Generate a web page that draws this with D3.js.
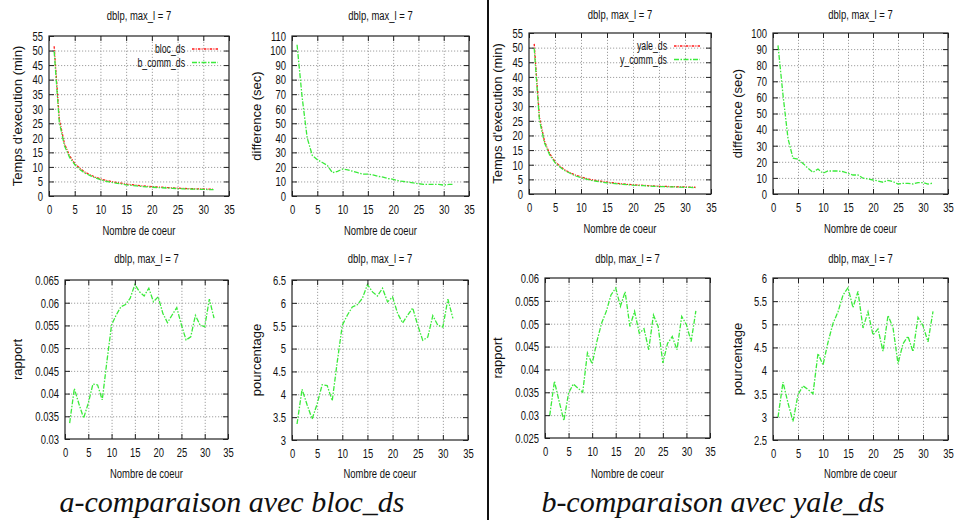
<!DOCTYPE html>
<html lang="fr">
  <head>
    <meta charset="utf-8">
    <title>dblp, max_l = 7</title>
    <style>
      body { margin: 0; background: #fff; }
      svg { display: block; }
    </style>
  </head>
  <body>
    <div id="root"></div>
    <script src="https://d3js.org/d3.v7.min.js" charset="utf-8"></script>
    <script>
      // data
      const cores = [1, 2, 3, 4, 5, 6, 7, 8, 9, 10, 11, 12, 13, 14, 15, 16,
                     17, 18, 19, 20, 21, 22, 23, 24, 25, 26, 27, 28, 29, 30, 31, 32];

      const blocDs = [51.5, 26.5, 18, 13.8, 11.2, 9.5, 8.2, 7.3, 6.5, 5.9, 5.4, 5.0, 4.7, 4.4, 4.1, 3.9,
                      3.7, 3.5, 3.35, 3.2, 3.1, 3.0, 2.9, 2.8, 2.7, 2.6, 2.55, 2.5, 2.45, 2.4, 2.35, 2.3];
      const bCommDs = [49.8, 25.4, 17.3, 13.3, 10.8, 9.1, 7.85, 7.03, 6.22, 5.6, 5.1, 4.72, 4.43, 4.15, 3.85, 3.66,
                       3.47, 3.28, 3.15, 3.01, 2.92, 2.83, 2.74, 2.65, 2.56, 2.47, 2.42, 2.37, 2.32, 2.28, 2.22, 2.17];
      const diffBloc = [104, 68, 40, 28, 25, 23, 21, 16, 17, 18.5, 18, 17, 16, 15, 15, 14.5,
                        13.5, 13, 12, 11.5, 10.5, 10, 9.5, 9, 8.5, 8, 8, 8, 8, 7.5, 8, 8];
      const rapportBloc = [0.0335, 0.0411, 0.0377, 0.0346, 0.0379, 0.0421, 0.0419, 0.0386, 0.0471, 0.0551, 0.0573, 0.0591, 0.0596, 0.061, 0.064, 0.0624,
                           0.0615, 0.0632, 0.0602, 0.0613, 0.0577, 0.0556, 0.0573, 0.0589, 0.0551, 0.0518, 0.0525, 0.0572, 0.0551, 0.0547, 0.0608, 0.0566];
      const pourcBloc = [3.35, 4.11, 3.77, 3.46, 3.79, 4.21, 4.19, 3.86, 4.71, 5.51, 5.73, 5.91, 5.96, 6.1, 6.4, 6.24,
                         6.15, 6.32, 6.02, 6.13, 5.77, 5.56, 5.73, 5.89, 5.51, 5.18, 5.25, 5.72, 5.51, 5.47, 6.08, 5.66];

      const yaleDs = [51.3, 26.3, 17.9, 13.7, 11.1, 9.4, 8.1, 7.2, 6.4, 5.8, 5.3, 4.9, 4.6, 4.3, 4.05, 3.85,
                      3.65, 3.45, 3.3, 3.15, 3.05, 2.95, 2.85, 2.75, 2.65, 2.6, 2.55, 2.5, 2.45, 2.4, 2.35, 2.3];
      const yCommDs = [49.8, 25.3, 17.3, 13.3, 10.7, 9.1, 7.85, 7.0, 6.15, 5.58, 5.06, 4.66, 4.36, 4.07, 3.83, 3.65,
                       3.45, 3.29, 3.15, 3.0, 2.92, 2.83, 2.71, 2.62, 2.55, 2.49, 2.44, 2.4, 2.33, 2.28, 2.25, 2.19];
      const diffYale = [92.3, 61.5, 34.5, 22.2, 21.6, 19, 16, 13.5, 15.5, 12.9, 14.3, 14.3, 14.3, 13.9, 12.9, 11.8,
                        11.8, 9.8, 9.3, 8.7, 8.1, 7.3, 8.5, 7.7, 6.2, 6.6, 6.6, 6.2, 7.1, 7.1, 6.2, 6.8];
      const rapportYale = [0.0299, 0.0374, 0.033, 0.0288, 0.0348, 0.0368, 0.0359, 0.035, 0.0436, 0.0412, 0.0461, 0.0501, 0.0527, 0.0563, 0.0578, 0.0538,
                           0.057, 0.0494, 0.0527, 0.0479, 0.0489, 0.0443, 0.0519, 0.0494, 0.0414, 0.0457, 0.0472, 0.0443, 0.0516, 0.0498, 0.0461, 0.0528];
      const pourcYale = [2.99, 3.75, 3.3, 2.9, 3.48, 3.67, 3.59, 3.5, 4.37, 4.12, 4.61, 5.02, 5.27, 5.63, 5.79, 5.36,
                         5.71, 4.92, 5.27, 4.77, 4.9, 4.42, 5.19, 4.93, 4.15, 4.58, 4.74, 4.41, 5.15, 4.97, 4.62, 5.28];

      // tick labels
      const xTicks = [0, 5, 10, 15, 20, 25, 30, 35];
      const tempsTicks = [0, 5, 10, 15, 20, 25, 30, 35, 40, 45, 50, 55];
      const diffBlocTicks = [0, 10, 20, 30, 40, 50, 60, 70, 80, 90, 100, 110];
      const diffYaleTicks = [0, 10, 20, 30, 40, 50, 60, 70, 80, 90, 100];
      const rapportBlocTicks = [0.03, 0.035, 0.04, 0.045, 0.05, 0.055, 0.06, 0.065];
      const pourcBlocTicks = [3, 3.5, 4, 4.5, 5, 5.5, 6, 6.5];
      const rapportYaleTicks = [0.025, 0.03, 0.035, 0.04, 0.045, 0.05, 0.055, 0.06];
      const pourcYaleTicks = [2.5, 3, 3.5, 4, 4.5, 5, 5.5, 6];

      const title = 'dblp, max_l = 7';
      const xTitle = 'Nombre de coeur';

      const RED = '#ff1a1a';
      const GREEN = '#3bea3b';
      const SQ = 0.7; // horizontal squeeze, the plot font is a narrow one

      const svg = d3.select('#root').append('svg')
        .attr('width', 956).attr('height', 520);
      svg.append('rect').attr('width', 956).attr('height', 520).attr('fill', '#fff');
      const plots = svg.append('g').attr('font-family', '"Liberation Sans", Arial, sans-serif');

      const fmt = d => String(+d.toFixed(4));

      function squeezeText(sel, x) {
        sel.selectAll('text')
          .attr('font-size', 13.5)
          .attr('fill', '#111')
          .attr('x', x / SQ)
          .attr('transform', `scale(${SQ},1)`);
      }

      function drawPanel(p) {
        const g = plots.append('g');
        const x = d3.scaleLinear().domain([0, 35]).range([p.l, p.r]);
        const y = d3.scaleLinear().domain(d3.extent(p.yTicks)).range([p.b, p.t]);
        const w = p.r - p.l, h = p.b - p.t;

        // dotted grid
        const grid = g.append('g');
        grid.append('g').attr('transform', `translate(0,${p.b})`)
          .call(d3.axisBottom(x).tickValues(xTicks.slice(1, -1)).tickSize(-h).tickFormat(''));
        grid.append('g').attr('transform', `translate(${p.l},0)`)
          .call(d3.axisLeft(y).tickValues(p.yTicks.slice(1, -1)).tickSize(-w).tickFormat(''));
        grid.selectAll('.domain').remove();
        grid.selectAll('line').attr('stroke', '#a0a0a0').attr('stroke-dasharray', '1.2,1.8');

        // series
        p.series.forEach(s => {
          const line = d3.line().x((d, i) => x(cores[i])).y(d => y(d));
          g.append('path').datum(s.values)
            .attr('fill', 'none')
            .attr('stroke', s.color)
            .attr('stroke-width', 1.3)
            .attr('stroke-dasharray', s.dash)
            .attr('d', line);
        });

        // axes, ticks inward and mirrored
        const ax = g.append('g');
        const bottom = ax.append('g').attr('transform', `translate(0,${p.b})`)
          .call(d3.axisBottom(x).tickValues(xTicks).tickSize(-5).tickPadding(8).tickFormat(fmt));
        bottom.selectAll('text').attr('font-size', 13.5).attr('fill', '#111')
          .attr('transform', `scale(${SQ},1)`);
        const left = ax.append('g').attr('transform', `translate(${p.l},0)`)
          .call(d3.axisLeft(y).tickValues(p.yTicks).tickSize(-5).tickPadding(6).tickFormat(fmt));
        squeezeText(left, -6);
        ax.append('g').attr('transform', `translate(0,${p.t})`)
          .call(d3.axisTop(x).tickValues(xTicks).tickSize(-5).tickFormat(''));
        ax.append('g').attr('transform', `translate(${p.r},0)`)
          .call(d3.axisRight(y).tickValues(p.yTicks).tickSize(-5).tickFormat(''));
        ax.selectAll('.domain').remove();
        ax.selectAll('line').attr('stroke', '#222').attr('stroke-width', 1);
        ax.attr('font-family', null);
        ax.selectAll('g').attr('font-family', null);

        g.append('rect')
          .attr('x', p.l).attr('y', p.t).attr('width', w).attr('height', h)
          .attr('fill', 'none').attr('stroke', '#222').attr('stroke-width', 1.2);

        // titles
        g.append('text')
          .attr('transform', `translate(${(p.l + p.r) / 2},${p.titleY}) scale(${SQ},1)`)
          .attr('text-anchor', 'middle').attr('dy', '0.35em')
          .attr('font-size', 13.5).attr('fill', '#111')
          .text(title);
        g.append('text')
          .attr('transform', `translate(${(p.l + p.r) / 2},${p.xTitleY}) scale(${SQ},1)`)
          .attr('text-anchor', 'middle').attr('dy', '0.35em')
          .attr('font-size', 13.5).attr('fill', '#111')
          .text(xTitle);
        g.append('text')
          .attr('transform', `translate(${p.yTitleX},${(p.t + p.b) / 2}) rotate(-90)`)
          .attr('text-anchor', 'middle').attr('dy', '0.35em')
          .attr('font-size', 13).attr('fill', '#111')
          .text(p.yTitle);

        // legend
        if (p.legend) {
          p.series.forEach((s, i) => {
            const ly = p.t + 13 + i * 13.5;
            g.append('text')
              .attr('transform', `translate(${p.legendX},${ly}) scale(${SQ},1)`)
              .attr('text-anchor', 'end').attr('dy', '0.35em')
              .attr('font-size', 12.5).attr('fill', '#111')
              .text(s.name);
            g.append('line')
              .attr('x1', p.legendX + 7).attr('x2', p.legendX + 33)
              .attr('y1', ly).attr('y2', ly)
              .attr('stroke', s.color).attr('stroke-width', 1.3)
              .attr('stroke-dasharray', s.dash);
          });
        }
      }

      const redDash = '2.5,1.2,1,1.2';
      const greenDash = '5,1.5,1.5,1.5';

      const panels = [
        { l: 49, r: 229, t: 36, b: 196, titleY: 15, xTitleY: 230, yTitleX: 17,
          yTicks: tempsTicks, yTitle: "Temps d'execution (min)", legend: true, legendX: 185,
          series: [{ name: 'bloc_ds', values: blocDs, color: RED, dash: redDash },
                   { name: 'b_comm_ds', values: bCommDs, color: GREEN, dash: greenDash }] },
        { l: 292, r: 469, t: 36, b: 196, titleY: 15, xTitleY: 230, yTitleX: 256,
          yTicks: diffBlocTicks, yTitle: 'difference  (sec)',
          series: [{ values: diffBloc, color: GREEN, dash: greenDash }] },
        { l: 529, r: 711, t: 33, b: 194, titleY: 14, xTitleY: 228, yTitleX: 497,
          yTicks: tempsTicks, yTitle: "Temps d'execution (min)", legend: true, legendX: 667,
          series: [{ name: 'yale_ds', values: yaleDs, color: RED, dash: redDash },
                   { name: 'y_comm_ds', values: yCommDs, color: GREEN, dash: greenDash }] },
        { l: 773, r: 948, t: 33, b: 194, titleY: 14, xTitleY: 228, yTitleX: 737,
          yTicks: diffYaleTicks, yTitle: 'difference  (sec)',
          series: [{ values: diffYale, color: GREEN, dash: greenDash }] },
        { l: 65, r: 228, t: 280, b: 439, titleY: 258, xTitleY: 473, yTitleX: 17,
          yTicks: rapportBlocTicks, yTitle: 'rapport',
          series: [{ values: rapportBloc, color: GREEN, dash: greenDash }] },
        { l: 292, r: 468, t: 280, b: 440, titleY: 258, xTitleY: 473, yTitleX: 256,
          yTicks: pourcBlocTicks, yTitle: 'pourcentage',
          series: [{ values: pourcBloc, color: GREEN, dash: greenDash }] },
        { l: 545, r: 710, t: 278, b: 438, titleY: 258, xTitleY: 473, yTitleX: 497,
          yTicks: rapportYaleTicks, yTitle: 'rapport',
          series: [{ values: rapportYale, color: GREEN, dash: greenDash }] },
        { l: 773, r: 948, t: 278, b: 440, titleY: 258, xTitleY: 473, yTitleX: 737,
          yTicks: pourcYaleTicks, yTitle: 'pourcentage',
          series: [{ values: pourcYale, color: GREEN, dash: greenDash }] }
      ];
      panels.forEach(drawPanel);

      // separator between the two halves
      svg.append('line')
        .attr('x1', 488).attr('x2', 488).attr('y1', 0).attr('y2', 520)
        .attr('stroke', '#111').attr('stroke-width', 2);

      // captions
      const captions = [
        { text: 'a-comparaison avec bloc_ds', x: 232 },
        { text: 'b-comparaison avec yale_ds', x: 713 }
      ];
      svg.selectAll('text.caption').data(captions).enter().append('text')
        .attr('class', 'caption')
        .attr('x', d => d.x).attr('y', 512)
        .attr('text-anchor', 'middle')
        .attr('style', "font-family: 'Liberation Serif', 'DejaVu Serif', 'Times New Roman', Times, serif; font-style: italic")
        .attr('font-size', 30)
        .attr('fill', '#111')
        .text(d => d.text);
    </script>
  </body>
</html>
